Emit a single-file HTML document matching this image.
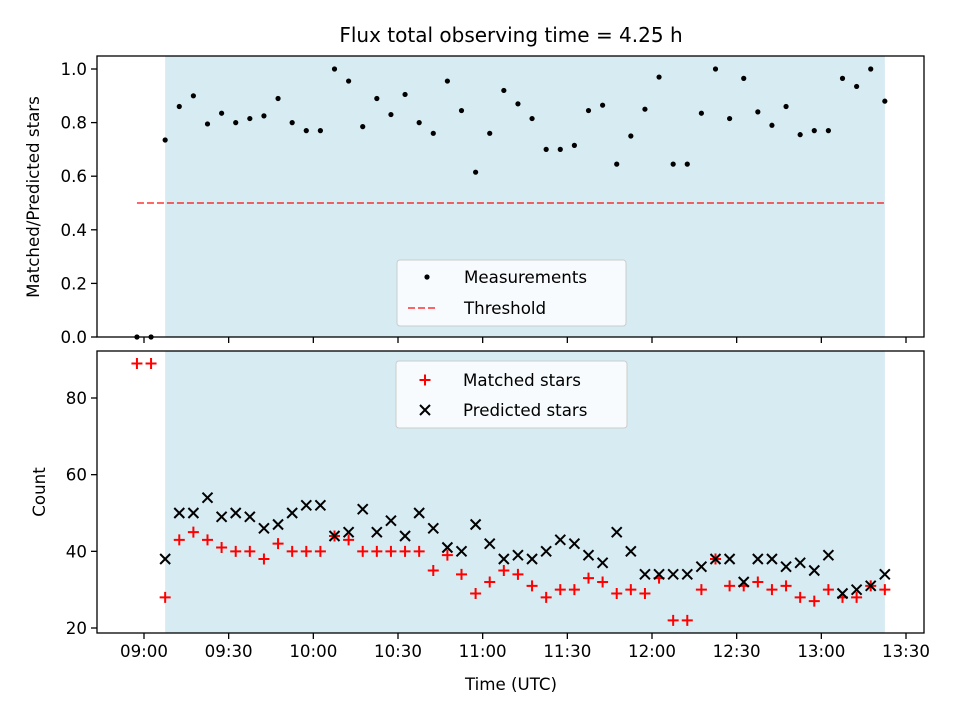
<!DOCTYPE html>
<html><head><meta charset="utf-8"><style>
body{margin:0;background:#fff;}
svg text{font-family:"DejaVu Sans","Liberation Sans",sans-serif;fill:#000;}
</style></head><body>
<svg id="c" width="960" height="720" xmlns="http://www.w3.org/2000/svg"></svg>
<script>
const ratios=[0,0,0.735,0.86,0.9,0.795,0.835,0.8,0.815,0.825,0.89,0.8,0.77,0.77,1.0,0.955,0.785,0.89,0.83,0.905,0.8,0.76,0.955,0.845,0.615,0.76,0.92,0.87,0.815,0.7,0.7,0.715,0.845,0.865,0.645,0.75,0.85,0.97,0.645,0.645,0.835,1.0,0.815,0.965,0.84,0.79,0.86,0.755,0.77,0.77,0.965,0.935,1.0,0.88];
const matched=[89,89,28,43,45,43,41,40,40,38,42,40,40,40,44,43,40,40,40,40,40,35,39,34,29,32,35,34,31,28,30,30,33,32,29,30,29,33,22,22,30,38,31,31,32,30,31,28,27,30,28,28,31,30];
const predicted=[null,null,38,50,50,54,49,50,49,46,47,50,52,52,44,45,51,45,48,44,50,46,41,40,47,42,38,39,38,40,43,42,39,37,45,40,34,34,34,34,36,38,38,32,38,38,36,37,35,39,29,30,31,34];
const startMin=-2.5, stepMin=5;
const threshold=0.5;
const shadeStart=7.5, shadeEnd=262.5;
const xTicks=[0,30,60,90,120,150,180,210,240,270];
const xTickLabels=["09:00","09:30","10:00","10:30","11:00","11:30","12:00","12:30","13:00","13:30"];
const yTopTicks=[0,0.2,0.4,0.6,0.8,1.0];
const yBotTicks=[20,40,60,80];

const svg=document.getElementById('c');
const NS='http://www.w3.org/2000/svg';
function el(t,a,p){const e=document.createElementNS(NS,t);for(const k in a)e.setAttribute(k,a[k]);(p||svg).appendChild(e);return e;}
const L=97,R=924,T1=56,B1=337,T2=351,B2=633;
const FS=16.67;
const xs=m=>144+(m)*(906-144)/270;
const y1=v=>337-v*268;
const y2=v=>628-(v-20)*(628-398)/60;
const tm=i=>startMin+i*stepMin;

let s=el('rect',{x:xs(shadeStart),y:T1,width:xs(shadeEnd)-xs(shadeStart),height:B1-T1,fill:'#add8e6','fill-opacity':0.5});

s=el('rect',{x:xs(shadeStart),y:T2,width:xs(shadeEnd)-xs(shadeStart),height:B2-T2,fill:'#add8e6','fill-opacity':0.5});


let th=el('line',{x1:xs(tm(0)),x2:xs(tm(ratios.length-1)),y1:y1(threshold),y2:y1(threshold),stroke:'#ff0000','stroke-opacity':0.6,'stroke-width':2,'stroke-dasharray':'7,3'});


ratios.forEach((v,i)=>{const c=el('circle',{cx:xs(tm(i)),cy:y1(v),r:2.6,fill:'#000'});
});

function plus(x,y,col,g){return el('path',{d:`M${x-5.5},${y}H${x+5.5}M${x},${y-5.5}V${y+5.5}`,stroke:col,'stroke-width':2},g);}
function cross(x,y,g){return el('path',{d:`M${x-5},${y-5}L${x+5},${y+5}M${x-5},${y+5}L${x+5},${y-5}`,stroke:'#000','stroke-width':2},g);}
matched.forEach((v,i)=>{const p=plus(xs(tm(i)),y2(v),'#ff0000');
});
predicted.forEach((v,i)=>{if(v===null)return;const p=cross(xs(tm(i)),y2(v));
});

let f=el('rect',{x:L,y:T1,width:R-L,height:B1-T1,fill:'none',stroke:'#000','stroke-width':1.3});

f=el('rect',{x:L,y:T2,width:R-L,height:B2-T2,fill:'none',stroke:'#000','stroke-width':1.3});


xTicks.forEach((m,i)=>{
  el('line',{x1:xs(m),x2:xs(m),y1:B1,y2:B1+6,stroke:'#000','stroke-width':1.3});
  el('line',{x1:xs(m),x2:xs(m),y1:B2,y2:B2+6,stroke:'#000','stroke-width':1.3});
  const t=el('text',{x:xs(m),y:B2+24,'text-anchor':'middle','font-size':FS});t.textContent=xTickLabels[i];
  
});
yTopTicks.forEach(v=>{
  el('line',{x1:L-6,x2:L,y1:y1(v),y2:y1(v),stroke:'#000','stroke-width':1.3});
  const t=el('text',{x:L-10,y:y1(v)+6,'text-anchor':'end','font-size':FS});t.textContent=v.toFixed(1);
  
});
yBotTicks.forEach(v=>{
  el('line',{x1:L-6,x2:L,y1:y2(v),y2:y2(v),stroke:'#000','stroke-width':1.3});
  const t=el('text',{x:L-10,y:y2(v)+6,'text-anchor':'end','font-size':FS});t.textContent=v;
  
});

let t=el('text',{x:511,y:42,'text-anchor':'middle','font-size':20});t.textContent='Flux total observing time = 4.25 h';

t=el('text',{x:511,y:690,'text-anchor':'middle','font-size':FS});t.textContent='Time (UTC)';

t=el('text',{x:0,y:0,'text-anchor':'middle','font-size':FS,transform:'translate(39,197) rotate(-90)'});t.textContent='Matched/Predicted stars';

t=el('text',{x:0,y:0,'text-anchor':'middle','font-size':FS,transform:'translate(45,492) rotate(-90)'});t.textContent='Count';


let g=el('g',{});
el('rect',{x:397,y:260,width:229,height:66,rx:3,fill:'#fff','fill-opacity':0.8,stroke:'#ccc'},g);
el('circle',{cx:427,cy:277,r:2.6,fill:'#000'},g);
el('line',{x1:408,x2:436,y1:308,y2:308,stroke:'#ff0000','stroke-opacity':0.6,'stroke-width':2,'stroke-dasharray':'7,3'},g);
t=el('text',{x:464,y:283,'font-size':FS},g);t.textContent='Measurements';
t=el('text',{x:464,y:314,'font-size':FS},g);t.textContent='Threshold';
g=el('g',{});
el('rect',{x:396,y:361,width:231,height:67,rx:3,fill:'#fff','fill-opacity':0.8,stroke:'#ccc'},g);
plus(425,380,'#ff0000',g);cross(425,410,g);
t=el('text',{x:463,y:386,'font-size':FS},g);t.textContent='Matched stars';
t=el('text',{x:463,y:416,'font-size':FS},g);t.textContent='Predicted stars';
</script>
</body></html>
